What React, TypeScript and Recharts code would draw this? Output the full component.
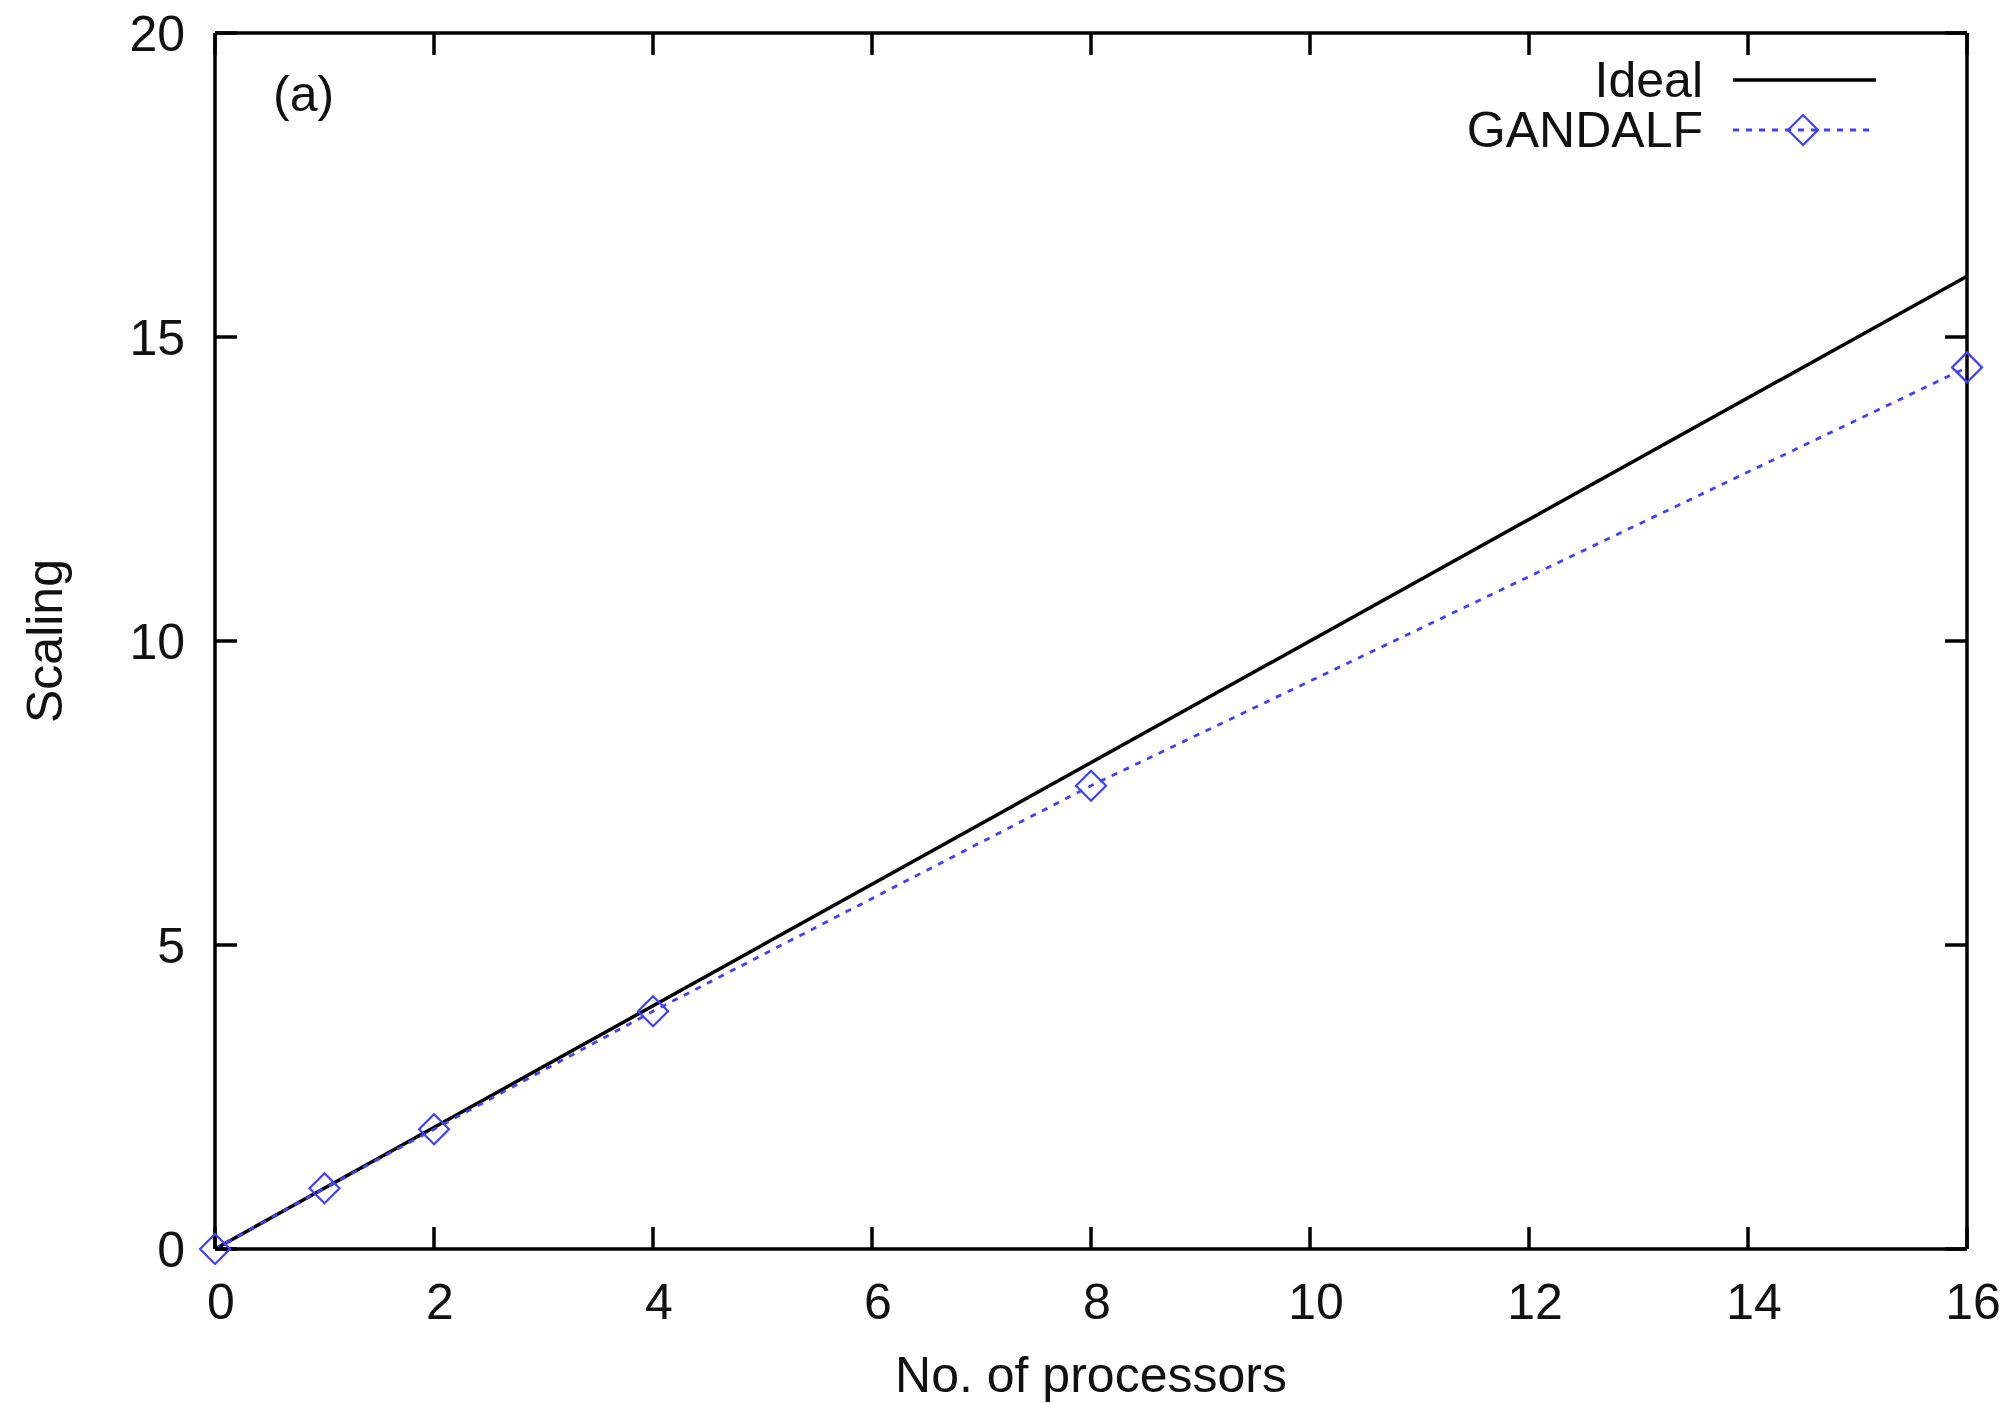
import React from 'react';
import { LineChart, Line, XAxis, YAxis, Legend } from 'recharts';

// processors used in the run and the measured speed-up
const processors = [0, 1, 2, 4, 8, 16];
const gandalfScaling = [0, 1.0, 1.97, 3.91, 7.62, 14.5];

// ideal (linear) scaling
const idealProcessors = [0, 16];
const idealScaling = [0, 16];

const xTicks = [0, 2, 4, 6, 8, 10, 12, 14, 16];
const yTicks = [0, 5, 10, 15, 20];
const legendOrder = ['Ideal', 'GANDALF'];

const BLUE = '#4040ff';
const FONT = '"Liberation Sans", Arial, Helvetica, sans-serif';
const AXIS = { stroke: '#000', strokeWidth: 3.5 };

const gandalfData = processors.map((x, i) => ({ x, y: gandalfScaling[i] }));
const idealData = idealProcessors.map((x, i) => ({ x, y: idealScaling[i] }));

// mirrored axes only carry the inward tick marks, no labels
const NoLabel = () => <g />;

const Diamond = (props: any) => {
  const { cx, cy, index } = props;
  if (cx == null || cy == null) return <g key={index} />;
  const r = 15;
  return (
    <path
      key={index}
      d={`M${cx},${cy - r} L${cx + r},${cy} L${cx},${cy + r} L${cx - r},${cy} Z`}
      fill="none"
      stroke={BLUE}
      strokeWidth={2.2}
    />
  );
};

const LegendBox = ({ payload }: any) => {
  const rows = [...(payload || [])].sort(
    (a: any, b: any) => legendOrder.indexOf(a.value) - legendOrder.indexOf(b.value)
  );
  return (
    <svg width={560} height={120} style={{ display: 'block', overflow: 'visible' }}>
      {rows.map((item: any, i: number) => {
        const cy = 40 + i * 50;
        const dashed = !!item.payload?.strokeDasharray;
        return (
          <g key={item.value}>
            <text x={303} y={cy} textAnchor="end" dominantBaseline="central" fontSize={50} fill="#111" fontFamily={FONT}>
              {item.value}
            </text>
            <line
              x1={333}
              x2={476}
              y1={cy}
              y2={cy}
              stroke={item.color}
              strokeWidth={dashed ? 2.8 : 3.5}
              strokeDasharray={dashed ? '6 7' : undefined}
            />
            {dashed && <Diamond cx={403} cy={cy} index={i} />}
          </g>
        );
      })}
    </svg>
  );
};

export default function App() {
  const tickStyle = { fontSize: 50, fill: '#111', fontFamily: FONT };
  return (
    <div style={{ position: 'relative', width: 2009, height: 1403, background: '#fff', fontFamily: FONT }}>
      <style>{'body{margin:0}'}</style>
      <LineChart width={2009} height={1403} margin={{ top: 33, right: 42, left: 115, bottom: 0 }}>
        <XAxis
          xAxisId="main"
          dataKey="x"
          type="number"
          domain={[0, 16]}
          ticks={xTicks}
          height={154}
          tickSize={0}
          tickMargin={34}
          tick={{ ...tickStyle, dx: 6 }}
          axisLine={AXIS}
          tickLine={false}
          label={{ value: 'No. of processors', position: 'insideBottom', offset: 11, fontSize: 50, fill: '#111' }}
        />
        <XAxis
          xAxisId="bottomTicks"
          dataKey="x"
          type="number"
          orientation="bottom"
          mirror
          allowDataOverflow
          height={1}
          domain={[0, 16]}
          ticks={xTicks}
          tick={NoLabel}
          tickSize={22}
          axisLine={false}
          tickLine={AXIS}
        />
        <XAxis
          xAxisId="top"
          dataKey="x"
          type="number"
          orientation="top"
          mirror
          allowDataOverflow
          height={1}
          domain={[0, 16]}
          ticks={xTicks}
          tick={NoLabel}
          tickSize={22}
          axisLine={AXIS}
          tickLine={AXIS}
        />
        <YAxis
          yAxisId="main"
          type="number"
          domain={[0, 20]}
          ticks={yTicks}
          width={100}
          tickSize={0}
          tickMargin={30}
          tick={tickStyle}
          axisLine={AXIS}
          tickLine={false}
          label={{
            value: 'Scaling',
            content: (p: any) => {
              const vb = p.viewBox || {};
              const cx = vb.x - 70;
              const cy = vb.y + vb.height / 2;
              return (
                <text
                  x={cx}
                  y={cy}
                  transform={`rotate(-90 ${cx} ${cy})`}
                  textAnchor="middle"
                  dominantBaseline="central"
                  fontSize={50}
                  fill="#111"
                  fontFamily={FONT}
                >
                  Scaling
                </text>
              );
            },
          }}
        />
        <YAxis
          yAxisId="leftTicks"
          type="number"
          orientation="left"
          mirror
          allowDataOverflow
          width={1}
          domain={[0, 20]}
          ticks={yTicks}
          tick={NoLabel}
          tickSize={22}
          axisLine={false}
          tickLine={AXIS}
        />
        <YAxis
          yAxisId="right"
          type="number"
          orientation="right"
          mirror
          allowDataOverflow
          width={1}
          domain={[0, 20]}
          ticks={yTicks}
          tick={NoLabel}
          tickSize={22}
          axisLine={AXIS}
          tickLine={AXIS}
        />
        <Legend
          layout="vertical"
          align="center"
          verticalAlign="middle"
          content={<LegendBox />}
          wrapperStyle={{ position: 'absolute', top: 40, left: 1400, width: 560, height: 120 }}
        />
        <Line
          xAxisId="main"
          yAxisId="main"
          data={idealData}
          dataKey="y"
          name="Ideal"
          type="linear"
          stroke="#000"
          strokeWidth={3.5}
          dot={false}
          activeDot={false}
          isAnimationActive={false}
          legendType="line"
        />
        <Line
          xAxisId="main"
          yAxisId="main"
          data={gandalfData}
          dataKey="y"
          name="GANDALF"
          type="linear"
          stroke={BLUE}
          strokeWidth={2.8}
          strokeDasharray="6 7"
          dot={Diamond}
          activeDot={false}
          isAnimationActive={false}
          legendType="diamond"
        />
      </LineChart>
      <div
        style={{
          position: 'absolute',
          left: 273,
          top: 94,
          transform: 'translateY(-50%)',
          fontSize: 50,
          color: '#111',
          lineHeight: 1,
        }}
      >
        (a)
      </div>
    </div>
  );
}
